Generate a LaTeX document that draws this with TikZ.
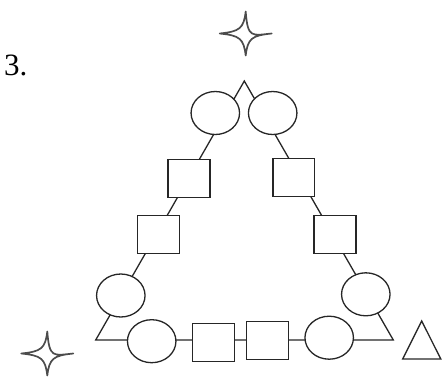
\documentclass[tikz,border=0pt]{standalone}
\usepackage{fontspec}
\setmainfont{Liberation Serif}
\usetikzlibrary{shapes.geometric}
\begin{document}
\begin{tikzpicture}[x=1pt,y=-1pt,
  ln/.style={line width=1.3pt,black!85},
  oval/.style={ln,draw,fill=white,ellipse,inner sep=0pt,minimum width=48.5pt,minimum height=43pt},
  sq/.style={ln,draw,fill=white,rectangle,inner sep=0pt,minimum width=41.8pt,minimum height=38pt},
  starline/.style={line width=1.7pt,black!70,line join=round}]
\useasboundingbox (0,0) rectangle (442,376);
% label
\node[anchor=base west,inner sep=0pt,font=\fontsize{31}{31}\selectfont] (num) at (4,75) {3.};
% triangle frame
\coordinate (apex) at (244.3,81);
\coordinate (cL) at (95.7,340);
\coordinate (cR) at (393.3,340);
\draw[ln,line join=miter] (apex) -- (cL) -- (cR) -- cycle;
% shapes on the frame
\node[oval] (eT1) at (215.3,113) {};
\node[oval] (eT2) at (272.7,113) {};
\node[sq] (sL1) at (189,178.8) {};
\node[sq] (sR1) at (293.8,177.2) {};
\node[sq] (sL2) at (158.3,234.5) {};
\node[sq] (sR2) at (335,234.5) {};
\node[oval] (eL) at (120.8,295.5) {};
\node[oval] (eR) at (365.8,294.3) {};
\node[oval] (eB1) at (151.7,341.2) {};
\node[sq] (sB1) at (213.3,342.2) {};
\node[sq] (sB2) at (267.3,340.3) {};
\node[oval] (eB2) at (329.2,337.7) {};
% small triangle
\draw[ln,line join=miter] (402.7,359) -- (421.7,321) -- (440.8,359) -- cycle;
% stars
\foreach \cx/\cy in {245.7/33.5, 47.3/353.5}{
  \draw[starline,shift={(\cx,\cy)}]
    (26,0) .. controls (6,2) and (2,5) .. (0,-22)
    .. controls (-2,-5) and (-6,-2) .. (-26,0)
    .. controls (-6,2) and (-2,5) .. (0,22)
    .. controls (2,5) and (6,2) .. (26,0) -- cycle;
}
\end{tikzpicture}
\end{document}
